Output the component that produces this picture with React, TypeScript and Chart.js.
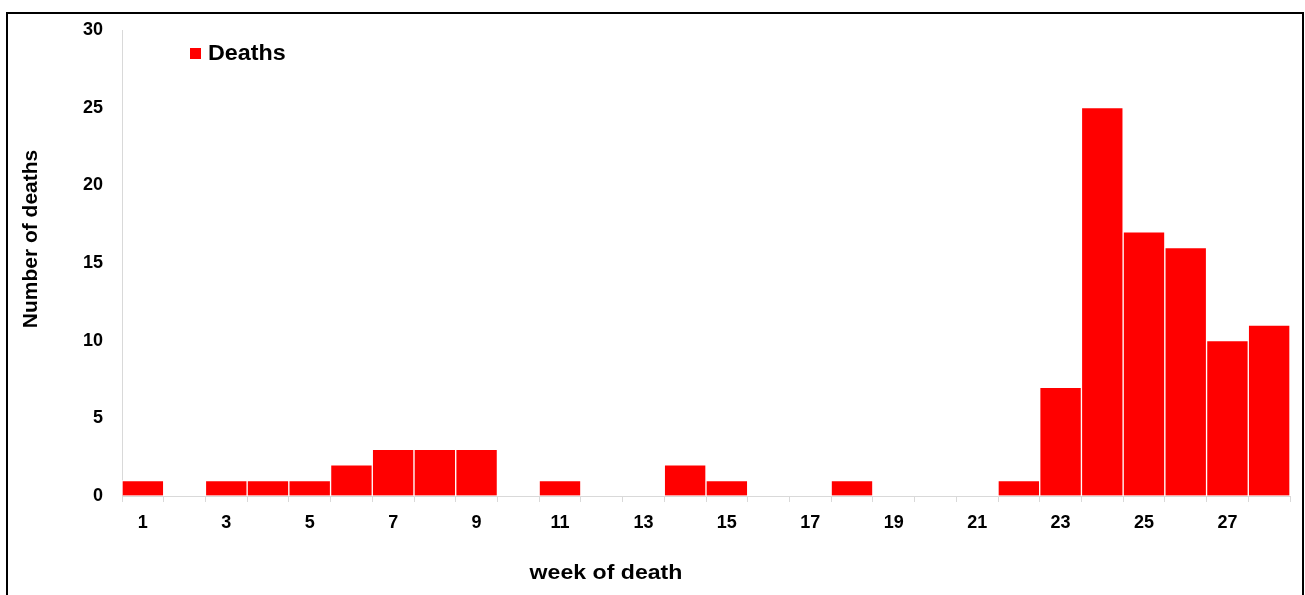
import React, { useEffect, useRef } from "react";
import { Chart, registerables } from "chart.js";

Chart.register(...registerables);

// ---- data ----
const weeks: string[] = [
  "1", "2", "3", "4", "5", "6", "7", "8", "9", "10",
  "11", "12", "13", "14", "15", "16", "17", "18", "19", "20",
  "21", "22", "23", "24", "25", "26", "27", "28",
];
const deaths: number[] = [
  1, 0, 1, 1, 1, 2, 3, 3, 3, 0,
  1, 0, 0, 2, 1, 0, 0, 1, 0, 0,
  0, 1, 7, 25, 17, 16, 10, 11,
];
const seriesLabel = "Deaths";
const xTitle = "week of death";
const yTitle = "Number of deaths";
const yMin = 0;
const yMax = 30;
const yStep = 5;

const FONT = '"Liberation Sans", Arial, Helvetica, sans-serif';
const RED = "#ff0000";
const AXIS_GREY = "#d9d9d9";

const overlayText = {
  id: "overlayText",
  afterDraw(chart: any) {
    const { ctx, chartArea } = chart;
    const ds = chart.data.datasets[0];
    ctx.save();
    // legend (inside the plot area, top-left)
    const lx = chartArea.left + 68;
    const ly = chartArea.top + 18;
    ctx.fillStyle = ds.backgroundColor as string;
    ctx.fillRect(lx, ly, 11, 11);
    ctx.fillStyle = "#000";
    ctx.font = `bold 22px ${FONT}`;
    ctx.textAlign = "left";
    ctx.textBaseline = "middle";
    ctx.save();
    ctx.translate(lx + 18, ly + 6);
    ctx.scale(1.06, 1);
    ctx.fillText(ds.label, 0, 0);
    ctx.restore();

    // x axis title
    ctx.save();
    ctx.font = `bold 21px ${FONT}`;
    ctx.textAlign = "center";
    ctx.textBaseline = "middle";
    ctx.translate(chartArea.left + 484, chartArea.bottom + 77);
    ctx.scale(1.1, 1);
    ctx.fillText(xTitle, 0, 0);
    ctx.restore();

    // y axis title
    ctx.translate(chartArea.left - 91, chartArea.top + 209);
    ctx.rotate(-Math.PI / 2);
    ctx.font = `bold 21px ${FONT}`;
    ctx.textAlign = "center";
    ctx.textBaseline = "middle";
    ctx.fillText(yTitle, 0, 0);
    ctx.restore();
  },
};

export default function App() {
  const canvasRef = useRef<HTMLCanvasElement | null>(null);

  useEffect(() => {
    const canvas = canvasRef.current;
    if (!canvas) return;
    Chart.defaults.font.family = FONT;
    const chart = new Chart(canvas, {
      type: "bar",
      data: {
        labels: weeks,
        datasets: [
          {
            label: seriesLabel,
            data: deaths,
            backgroundColor: RED,
            borderColor: "#ffffff",
            borderWidth: 1,
            barPercentage: 1,
            categoryPercentage: 1,
          },
        ],
      },
      options: {
        animation: false,
        responsive: false,
        maintainAspectRatio: false,
        layout: { padding: { top: 30, right: 15, left: 0, bottom: 0 } },
        plugins: {
          legend: { display: false },
          tooltip: { enabled: false },
          title: { display: false },
        },
        scales: {
          x: {
            offset: true,
            grid: {
              display: true,
              offset: true,
              drawOnChartArea: false,
              drawTicks: true,
              tickLength: 6,
              color: AXIS_GREY,
            },
            border: { display: true, color: AXIS_GREY, width: 1 },
            ticks: {
              autoSkip: false,
              maxRotation: 0,
              minRotation: 0,
              padding: 10,
              color: "#000",
              font: { family: FONT, size: 18, weight: "bold" },
              callback: (_v: any, i: number) => (i % 2 === 0 ? weeks[i] : ""),
            },
            afterFit: (scale: any) => {
              scale.height = 99;
            },
          },
          y: {
            min: yMin,
            max: yMax,
            grid: { display: true, drawOnChartArea: false, drawTicks: false, color: AXIS_GREY },
            border: { display: true, color: AXIS_GREY, width: 1 },
            ticks: {
              stepSize: yStep,
              padding: 19,
              color: "#000",
              font: { family: FONT, size: 18, weight: "bold" },
            },
            afterFit: (scale: any) => {
              scale.width = 122;
            },
          },
        },
      },
      plugins: [overlayText],
    });
    return () => chart.destroy();
  }, []);

  return (
    <div
      style={{
        position: "absolute",
        left: 0,
        top: 0,
        width: 1305,
        height: 595,
        overflow: "hidden",
        background: "#fff",
      }}
    >
      <div
        style={{
          position: "absolute",
          left: 6,
          top: 12,
          width: 1298,
          height: 620,
          border: "2px solid #000",
          boxSizing: "border-box",
        }}
      />
      <canvas
        ref={canvasRef}
        width={1305}
        height={595}
        style={{ position: "absolute", left: 0, top: 0, width: 1305, height: 595 }}
      />
    </div>
  );
}
